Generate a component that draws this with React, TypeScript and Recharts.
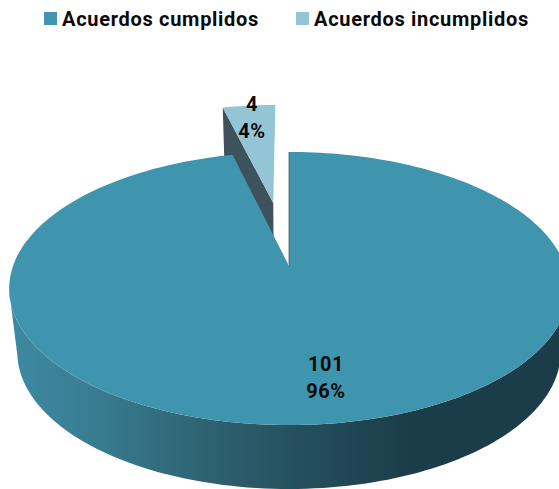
import React from "react";
import { PieChart, Pie, Legend } from "recharts";

const categories = ["Acuerdos cumplidos", "Acuerdos incumplidos"];
const values = [101, 4];
const topColors = ["#4095ae", "#94c5d6"];
const pulledOut = [0, 0.518]; // share of the radius each slice is pulled out
const labelRadius = [0.745, 0.857];
const labelShift = [9, 0];

const FONT = "Roboto, sans-serif";
const total = values[0] + values[1];
const smallSweep = (360 * values[1]) / total;

// small slice first so that the big one paints over it
const table = [1, 0].map((i) => ({
  name: categories[i],
  value: values[i],
  fill: topColors[i],
  pull: pulledOut[i],
  labelRadius: labelRadius[i],
  labelShift: labelShift[i],
}));

// perspective of the tilted disc
const K = 0.1648;
const TOP_B = -89;
const BOTTOM_A_OFFSET = 63.5;
const BOTTOM_B = -78.9;
const BOTTOM_SCALE = 0.971;

const RAD = Math.PI / 180;

function project(cx: number, cy: number, r: number, X: number, Y: number, bottom = false) {
  const w = 1 + K * Y;
  if (bottom) {
    return [cx + (BOTTOM_SCALE * r * X) / w, (cy + BOTTOM_A_OFFSET + BOTTOM_B * Y) / w];
  }
  return [cx + (r * X) / w, (cy + TOP_B * Y) / w];
}

function toPath(points: number[][]) {
  return "M" + points.map((p) => p[0].toFixed(2) + " " + p[1].toFixed(2)).join("L") + "Z";
}

function DiscSlice(props: any) {
  const { cx, cy, outerRadius, startAngle, endAngle, fill, payload } = props;
  const pull = payload.pull ?? 0;
  const mid = ((startAngle + endAngle) / 2) * RAD;
  const ox = pull * Math.cos(mid);
  const oy = pull * Math.sin(mid);

  const steps = Math.max(4, Math.ceil(Math.abs(endAngle - startAngle) / 1.5));
  const angles: number[] = [];
  for (let i = 0; i <= steps; i++) {
    angles.push((startAngle + ((endAngle - startAngle) * i) / steps) * RAD);
  }
  const rim = (list: number[], bottom: boolean) =>
    list.map((t) => project(cx, cy, outerRadius, ox + Math.cos(t), oy + Math.sin(t), bottom));

  const topRim = rim(angles, false);
  const apex = project(cx, cy, outerRadius, ox, oy);

  if (pull > 0) {
    const bottomRim = rim(angles, true);
    const bottomApex = project(cx, cy, outerRadius, ox, oy, true);
    return (
      <g>
        <path
          d={toPath([topRim[0], apex, bottomApex, bottomRim[0]])}
          fill="#3e525b"
        />
        <path d={toPath([apex, ...topRim])} fill={fill} />
      </g>
    );
  }

  // outer wall only where it faces the viewer, between the two tangent points
  const front = angles.filter((t) => Math.sin(t) < -K);
  return (
    <g>
      <defs>
        <linearGradient id="wallShade" gradientUnits="userSpaceOnUse" x1="10" y1="0" x2="410" y2="0">
          <stop offset="0" stopColor="#3d8aa2" />
          <stop offset="0.225" stopColor="#387b90" />
          <stop offset="0.475" stopColor="#2f6474" />
          <stop offset="0.725" stopColor="#254f5d" />
          <stop offset="1" stopColor="#1b3d49" />
        </linearGradient>
      </defs>
      <path d={toPath([...rim(front, false), ...rim(front, true).reverse()])} fill="url(#wallShade)" />
      <path d={toPath([apex, ...topRim])} fill={fill} />
      <line
        x1={apex[0]}
        y1={apex[1]}
        x2={topRim[0][0]}
        y2={topRim[0][1]}
        stroke="#3e525b"
        strokeWidth={0.7}
      />
    </g>
  );
}

function SliceLabel(props: any) {
  const { cx, cy, outerRadius, midAngle, value, percent, payload } = props;
  const t = midAngle * RAD;
  const f = payload.labelRadius;
  const pull = payload.pull ?? 0;
  const [x, y] = project(
    cx,
    cy,
    outerRadius,
    (pull + f) * Math.cos(t),
    (pull + f) * Math.sin(t)
  );
  const textStyle = { fontFamily: FONT, fontWeight: 700, fontSize: 20, letterSpacing: 0.5, fill: "#0a0a0a" };
  return (
    <g>
      <text x={x + payload.labelShift} y={y - 7} textAnchor="middle" style={textStyle}>
        {value}
      </text>
      <text x={x + payload.labelShift} y={y + 20.5} textAnchor="middle" style={textStyle}>
        {Math.round(percent * 100)}%
      </text>
    </g>
  );
}

function LegendRow({ payload }: any) {
  const items = [...(payload ?? [])].sort((a: any, b: any) =>
    String(a.value).localeCompare(String(b.value))
  );
  // zero height on purpose: the legend must not push the pie down
  return (
    <div
      style={{
        display: "flex",
        paddingLeft: 44,
        height: 0,
        alignItems: "center",
        fontFamily: FONT,
        fontWeight: 700,
        fontSize: 20,
        color: "#0a0a0a",
        whiteSpace: "nowrap",
        letterSpacing: 0.7,
      }}
    >
      {items.map((item: any) => (
        <div key={item.value} style={{ display: "flex", alignItems: "center", width: 252 }}>
          <span
            style={{
              width: 13,
              height: 13,
              background: item.color,
              marginRight: 5,
              display: "inline-block",
            }}
          />
          <span>{item.value}</span>
        </div>
      ))}
    </div>
  );
}

export default function App() {
  return (
    <div style={{ position: "absolute", left: 0, top: 0, width: 559, height: 489, background: "#fff" }}>
      <PieChart width={559} height={489} margin={{ top: 0, right: 0, bottom: 0, left: 0 }}>
        <Legend
          content={<LegendRow />}
          verticalAlign="top"
          wrapperStyle={{ position: "absolute", left: 0, top: 18.5, width: 559 }}
        />
        <Pie
          data={table}
          dataKey="value"
          nameKey="name"
          cx={289}
          cy={266}
          innerRadius={0}
          outerRadius={276}
          startAngle={90 + smallSweep}
          endAngle={90 + smallSweep - 360}
          stroke="none"
          shape={<DiscSlice />}
          label={<SliceLabel />}
          labelLine={false}
          isAnimationActive={false}
        />
      </PieChart>
    </div>
  );
}
